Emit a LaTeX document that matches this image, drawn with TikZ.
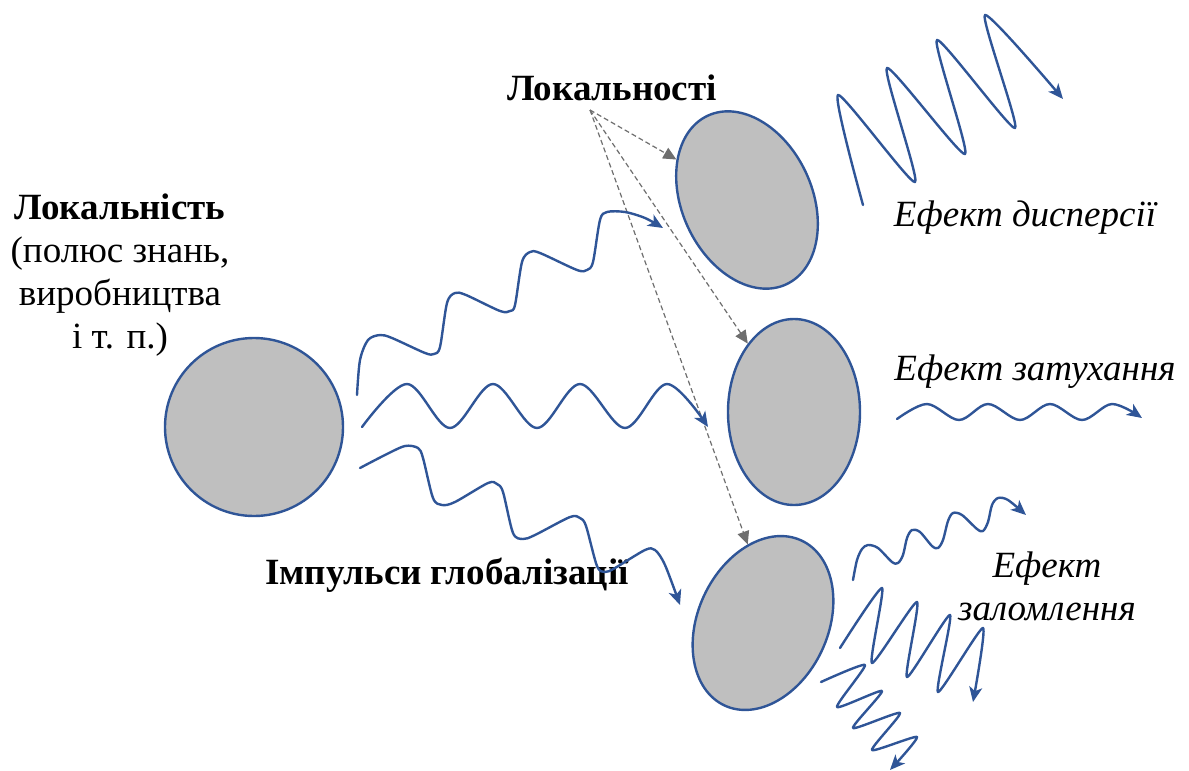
\documentclass[tikz,border=0pt]{standalone}
\usepackage{fontspec}
\setmainfont{Liberation Serif}
\usetikzlibrary{shapes.geometric,arrows.meta}
\definecolor{wblue}{HTML}{2F5597}
\definecolor{bfill}{HTML}{BFBFBF}
\definecolor{dgray}{HTML}{6E6E6E}
\begin{document}
\begin{tikzpicture}[x=1pt,y=-1pt,
  blob/.style={draw=wblue, line width=2.4pt, fill=bfill, inner sep=0pt},
  wave/.style={draw=wblue, line width=2.4pt, line join=round, line cap=round,
    -{Stealth[length=15pt,width=13pt,inset=4pt]}},
  link/.style={draw=dgray, line width=1.2pt, dash pattern=on 5pt off 3pt,
    -{Triangle[length=13pt,width=12pt]}},
  lbl/.style={font=\fontsize{37}{43}\selectfont, align=center, inner sep=0pt},
  blbl/.style={lbl, font=\fontsize{37}{43}\selectfont\bfseries},
  ilbl/.style={lbl, font=\fontsize{37}{43}\selectfont\itshape}]
\useasboundingbox (0,0) rectangle (1189,771);

% bodies
\node[blob, circle, minimum size=178pt] (c) at (254,427) {};
\node[blob, ellipse, minimum width=130pt, minimum height=186pt, rotate=25] (e1) at (747,200) {};
\node[blob, ellipse, minimum width=132pt, minimum height=186pt] (e2) at (794,412) {};
\node[blob, ellipse, minimum width=130pt, minimum height=182pt, rotate=-25] (e3) at (763,623) {};

% labels
\node[lbl] (loc) at (120,275) {\textbf{Локальність}\\(полюс знань,\\виробництва\\і т. п.)};
\node[blbl] (locs) at (612,88) {Локальності};
\node[blbl] (imp) at (447,575) {Імпульси глобалізації};
\node[ilbl] (disp) at (1025,218) {Ефект дисперсії};
\node[ilbl] (att) at (1035,372) {Ефект затухання};
\node[ilbl] (refr) at (1047,586) {Ефект\\заломлення};

% dashed links
\coordinate (o) at (590,110);
\draw[link] (o) -- (e1);
\draw[link] (o) -- (e2);
\draw[link] (o) -- (e3.126);

% globalisation impulses
\draw[wave] plot[smooth, tension=0.5] coordinates {(357,395) (360,360) (368,340) (380,335) (392,338) (425,353) (434,354) (440,347) (447,303) (455,293) (466,295) (500,311) (510,311) (515,305) (522,262) (530,252) (540,253) (577,270) (587,270) (593,262) (600,220) (607,212) (625,212) (645,218) (663,228)};
\draw[wave] plot[smooth, tension=0.55] coordinates {(362,427) (407,384) (450,428) (493,384) (537,428) (580,384) (625,428) (667,384) (708,427)};
\draw[wave] plot[smooth, tension=0.5] coordinates {(360,468) (385,455) (405,446) (418,448) (423,458) (433,498) (442,505) (455,502) (488,483) (497,484) (503,492) (513,533) (523,539) (535,535) (570,517) (580,518) (586,526) (597,566) (605,572) (615,568) (645,550) (655,550) (665,565) (680,605)};

% dispersion
\draw[wave] plot[smooth, tension=0.35] coordinates {(863,205) (838,95) (915,182) (887,68) (965,154) (937,40) (1015,128) (985,15) (1063,99)};

% attenuation
\draw[wave] plot[smooth, tension=0.55] coordinates {(897,419) (927,404) (959,420) (988,404) (1020,420) (1050,404) (1082,420) (1112,404) (1142,418)};

% refraction
\draw[wave] plot[smooth, tension=0.5] coordinates {(853,580) (857,560) (862,549) (868,545) (878,548) (892,562) (898,563) (903,555) (907,538) (912,530) (920,532) (932,546) (938,548) (943,540) (948,521) (953,513) (962,515) (977,529) (983,531) (988,522) (992,505) (998,498) (1008,500) (1026,515)};
\draw[wave] plot[smooth, tension=0.35] coordinates {(840,648) (882,588) (872,663) (917,602) (907,677) (950,615) (938,692) (983,628) (973,702)};
\draw[wave] plot[smooth, tension=0.35] coordinates {(821,682) (865,665) (837,707) (882,691) (853,728) (900,713) (872,750) (917,737) (890,770)};
\end{tikzpicture}
\end{document}
